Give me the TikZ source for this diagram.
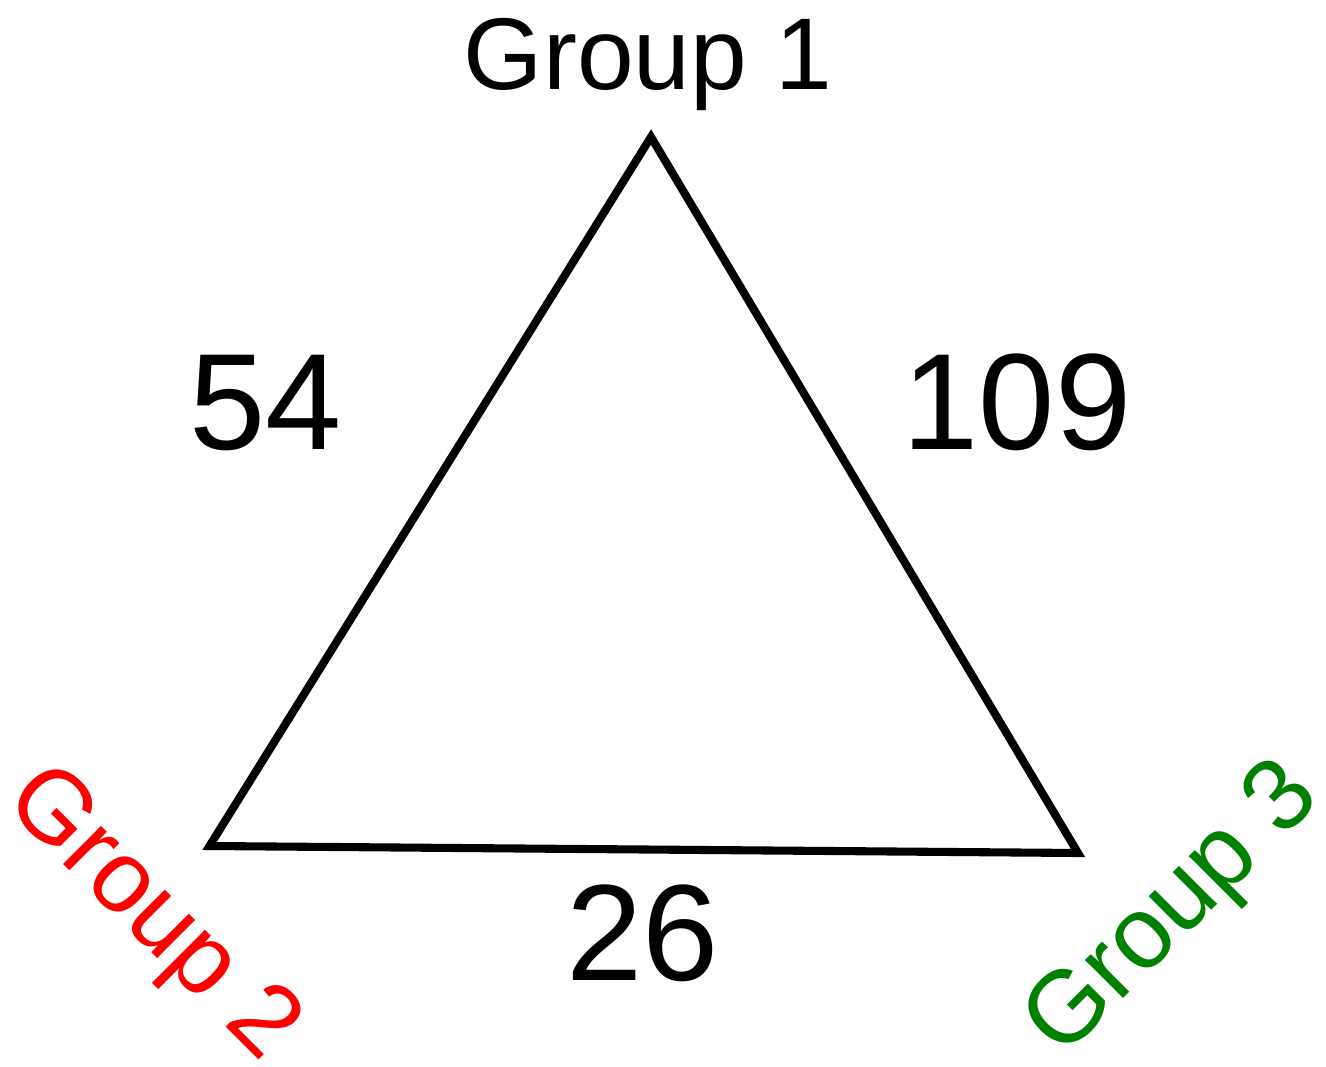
\documentclass[tikz,border=0pt]{standalone}
\usepackage{fontspec}
\setmainfont{Liberation Sans}
\usepackage{tikz}

\begin{document}
\begin{tikzpicture}[line join=miter,
  grouplabel/.style={inner sep=0pt,font=\fontsize{58}{60}\selectfont},
  countlabel/.style={inner sep=0pt,anchor=base,font=\fontsize{78}{80}\selectfont}]
\useasboundingbox (0,0) rectangle (26.52,-21.34);
\coordinate (top) at (13.02,-2.74);
\coordinate (left) at (4.19,-16.92);
\coordinate (right) at (21.56,-17.06);
\draw[line width=4.6pt] (top) -- (left) -- (right) -- cycle;
\node[grouplabel,anchor=base] (g1) at (12.96,-1.80) {Group 1};
\node[grouplabel,red,rotate=-45] (g2) at (3.00,-18.32) {Group 2};
\node[grouplabel,green!50!black,rotate=45] (g3) at (23.50,-18.24) {Group 3};
\node[countlabel] (n54) at (5.32,-9.00) {54};
\node[countlabel] (n109) at (20.34,-9.00) {109};
\node[countlabel] (n26) at (12.86,-19.60) {26};
\end{tikzpicture}
\end{document}
